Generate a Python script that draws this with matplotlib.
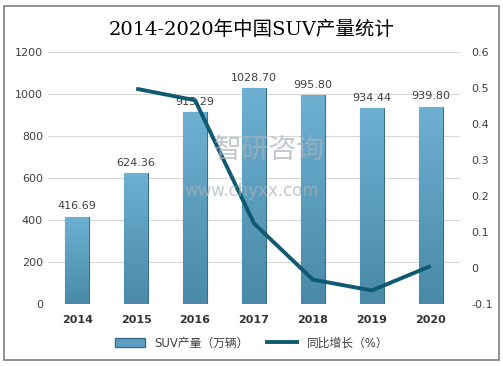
import matplotlib.pyplot as plt
from matplotlib.patches import Rectangle, Patch
from matplotlib.lines import Line2D
from matplotlib.colors import LinearSegmentedColormap
import numpy as np

plt.rcParams['font.family'] = ['DejaVu Sans', 'Noto Sans CJK SC']

years = ['2014', '2015', '2016', '2017', '2018', '2019', '2020']
output = [416.69, 624.36, 915.29, 1028.70, 995.80, 934.44, 939.80]
growth_years = ['2015', '2016', '2017', '2018', '2019', '2020']
growth = [0.498, 0.466, 0.124, -0.032, -0.062, 0.006]

fig = plt.figure(figsize=(5.03, 3.66), dpi=100)
ax = fig.add_axes([0.095, 0.169, 0.82, 0.689])
ax2 = ax.twinx()

x = np.arange(len(years))
bars = ax.bar(x, output, width=0.4, color='#5b9ec2', edgecolor='#3b6f88', linewidth=0.8, zorder=2)

# gradient fill in each bar
grad = np.linspace(1, 0, 100).reshape(-1, 1)
cmap = LinearSegmentedColormap.from_list('bar', ['#4a8aa8', '#6db0d2'])
for b in bars:
    bx, by = b.get_x(), b.get_y()
    w, h = b.get_width(), b.get_height()
    im = ax.imshow(grad, extent=[bx, bx + w, by, by + h], aspect='auto', cmap=cmap, zorder=2.1)
    im.set_clip_path(b)

for xi, v in zip(x, output):
    ax.text(xi, v + 25, f'{v:.2f}', ha='center', va='bottom', fontsize=8, color='#404040', zorder=5)

ax.set_xlim(-0.5, len(years) - 0.5)
ax.set_ylim(0, 1200)
ax.set_yticks(range(0, 1201, 200))
ax.grid(axis='y', color='#d9d9d9', linewidth=0.8, zorder=0)
ax.set_axisbelow(True)
ax.set_xticks(x)
ax.set_xticklabels(years, fontsize=9, fontweight='bold', color='#333333')
ax.tick_params(axis='both', length=0, labelsize=8, labelcolor='#404040')
ax.tick_params(axis='x', pad=8, labelcolor='#333333')
for s in ax.spines.values():
    s.set_visible(False)

gx = [years.index(y) for y in growth_years]
ax2.plot(gx, growth, color='#0f5a70', linewidth=2.8, zorder=4, solid_capstyle='butt')
ax2.set_ylim(-0.1, 0.6)
ax2.set_yticks(np.round(np.arange(-0.1, 0.61, 0.1), 1))
ax2.set_yticklabels(['-0.1', '0', '0.1', '0.2', '0.3', '0.4', '0.5', '0.6'])
ax2.tick_params(axis='y', length=0, labelsize=8, labelcolor='#404040', pad=8)
for s in ax2.spines.values():
    s.set_visible(False)
ax.set_zorder(ax2.get_zorder() - 1)
ax2.patch.set_visible(False)

fig.text(0.5, 0.918, '2014-2020年中国SUV产量统计', ha='center', va='center', fontsize=14,
         family=['DejaVu Serif', 'Noto Sans CJK SC'], color='black')

# watermark
fig.text(0.535, 0.59, '智研咨询', ha='center', va='center', fontsize=20, color='#a9b1b9', alpha=0.7,
         family=['Noto Sans CJK SC'], zorder=10)
fig.text(0.50, 0.478, 'www.chyxx.com', ha='center', va='center', fontsize=12, color='#a9b1b9', alpha=0.7, zorder=10)

# legend
handles = [Patch(facecolor='#5b9ec2', edgecolor='#3b6f88', label='SUV产量（万辆）'),
           Line2D([0], [0], color='#0f5a70', linewidth=2.8, label='同比增长（%）')]
fig.legend(handles=handles, loc='center', bbox_to_anchor=(0.5, 0.063), ncol=2, frameon=False,
           fontsize=8.5, handlelength=2.6, handleheight=0.8, columnspacing=1.5, labelcolor='#404040')

fig.add_artist(Rectangle((4 / 503, 6 / 366), 495 / 503, 354 / 366, transform=fig.transFigure,
                         fill=False, edgecolor='#808080', linewidth=1.2))

fig.savefig('out.png', dpi=100)
